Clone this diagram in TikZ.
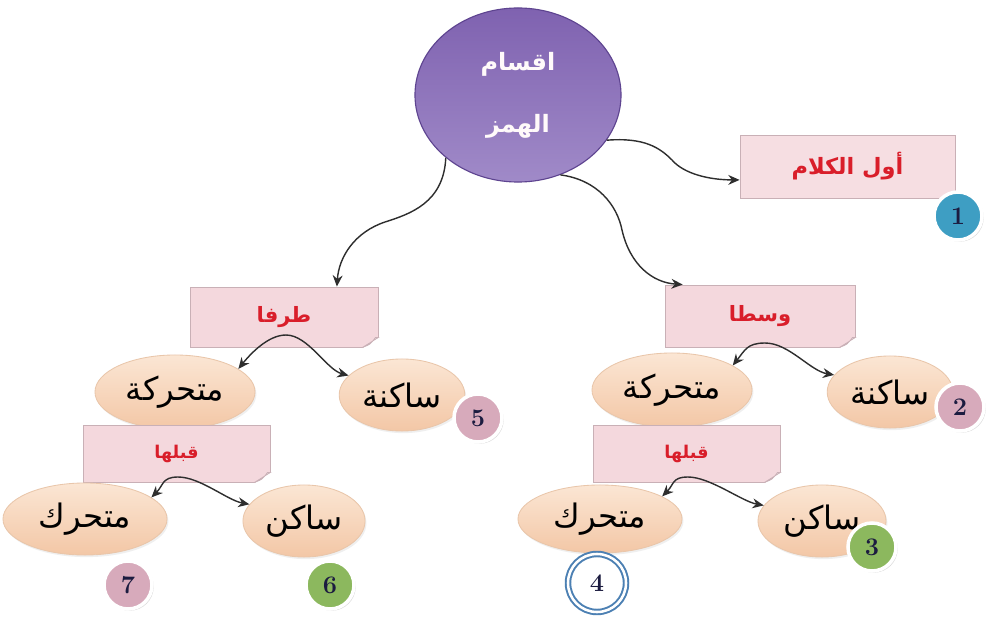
\documentclass[tikz,border=0pt]{standalone}
\usepackage{fontspec}
\usetikzlibrary{shapes.geometric,arrows.meta,calc,shadows}
\newfontfamily\arabicfont[Script=Arabic]{DejaVu Sans}
\TeXXeTstate=1
\newcommand\artext[1]{{\arabicfont\beginR #1\endR}}
\definecolor{purpTop}{HTML}{7F62B0}
\definecolor{purpBot}{HTML}{A08AC8}
\definecolor{purpEdge}{HTML}{5E4490}
\definecolor{boxFill}{HTML}{F4D8DD}
\definecolor{boxEdge}{HTML}{C9B0B6}
\definecolor{peachTop}{HTML}{FBE6D4}
\definecolor{peachBot}{HTML}{F3C7A6}
\definecolor{peachEdge}{HTML}{E9C6AA}
\definecolor{redText}{HTML}{D91E2A}
\definecolor{tealBadge}{HTML}{3E9EC3}
\definecolor{mauveBadge}{HTML}{D7AABB}
\definecolor{greenBadge}{HTML}{8CB85E}
\definecolor{blueRing}{HTML}{4C80B3}
\definecolor{numText}{HTML}{1C1C40}
\definecolor{arrowCol}{HTML}{2E2E2E}
\tikzset{
  mainball/.style={ellipse, minimum width=5.15cm, minimum height=4.35cm, draw=purpEdge, line width=0.8pt,
     top color=purpTop, bottom color=purpBot, text=white!92!pink, align=center,
     font=\fontsize{17}{44}\selectfont\bfseries},
  labelbox/.style={rectangle, draw=boxEdge, fill=boxFill, line width=0.6pt, text=redText,
     font=\fontsize{15}{18}\selectfont\bfseries, drop shadow={opacity=0.15, shadow xshift=1pt, shadow yshift=-1pt}},
  oval/.style={ellipse, draw=peachEdge, line width=0.6pt, top color=peachTop, bottom color=peachBot,
     text=black, font=\fontsize{23}{26}\selectfont,
     drop shadow={opacity=0.12, shadow xshift=1pt, shadow yshift=-1.5pt}},
  badge/.style={circle, minimum size=1.2cm, inner sep=0pt, draw=white, line width=2.5pt,
     text=numText, font=\fontsize{18}{18}\selectfont\bfseries,
     drop shadow={opacity=0.3, shadow xshift=1.2pt, shadow yshift=-1.2pt}},
  flow/.style={draw=arrowCol, line width=1pt, -{Stealth[length=8pt,width=7pt]}}
}
\newcommand\foldcorner[1]{%
  \fill[white] ($(#1.south east)+(-16,1)$) -- ($(#1.south east)+(1,1)$) -- ($(#1.south east)+(1,-11)$) -- cycle;
  \filldraw[fill=boxFill!80!gray!60, draw=boxEdge, line width=0.5pt] ($(#1.south east)+(-16,0)$) .. controls ($(#1.south east)+(-8,-3)$) .. ($(#1.south east)+(-3,-10)$) -- ($(#1.south east)+(0,-10)$) -- cycle;
  \draw[boxEdge, line width=0.6pt] ($(#1.south east)+(-16,0)$) -- ($(#1.south west)$);
  \draw[boxEdge, line width=0.6pt] ($(#1.south east)+(0,-10)$) -- ($(#1.north east)$);
}
\begin{document}
\begin{tikzpicture}[x=0.025cm,y=-0.025cm]
\useasboundingbox[fill=white] (0,0) rectangle (987,623);

% main circle
\node[mainball] (P) at (518,95) {\artext{اقسام}\\\artext{الهمز}};

% first-level boxes
\node[labelbox, minimum width=5.375cm, minimum height=1.575cm, fill=boxFill!85!white, font=\fontsize{16}{18}\selectfont\bfseries] (B1) at (847.5,166.5) {\artext{أول الكلام}};
\node[labelbox, minimum width=4.7cm, minimum height=1.5cm] (T) at (284,317) {\artext{طرفا}};
\node[labelbox, minimum width=4.75cm, minimum height=1.55cm] (V) at (760,316) {\artext{وسطا}};
\foldcorner{T}
\foldcorner{V}

% row 1 ovals
\node[oval, minimum width=4cm, minimum height=1.85cm] (EL1) at (175,392) {\artext{متحركة}};
\node[oval, minimum width=3.1cm, minimum height=1.8cm] (SL1) at (402,395) {\artext{ساكنة}};
\node[oval, minimum width=4cm, minimum height=1.85cm] (ER1) at (672,390) {\artext{متحركة}};
\node[oval, minimum width=3cm, minimum height=1.8cm] (SR1) at (890,392) {\artext{ساكنة}};

% row 2 boxes
\node[labelbox, minimum width=4.675cm, minimum height=1.425cm, font=\fontsize{12.5}{15}\selectfont\bfseries] (QL) at (176.5,453.5) {\artext{قبلها}};
\node[labelbox, minimum width=4.675cm, minimum height=1.425cm, font=\fontsize{12.5}{15}\selectfont\bfseries] (QR) at (686.5,453.5) {\artext{قبلها}};
\foldcorner{QL}
\foldcorner{QR}

% row 2 ovals
\node[oval, minimum width=4.1cm, minimum height=1.8cm] (EL2) at (85,519) {\artext{متحرك}};
\node[oval, minimum width=2.95cm, minimum height=1.8cm] (SL2) at (304,521) {\artext{ساكن}};
\node[oval, minimum width=4.1cm, minimum height=1.7cm] (ER2) at (600,519) {\artext{متحرك}};
\node[oval, minimum width=3.2cm, minimum height=1.8cm] (SR2) at (822,521) {\artext{ساكن}};

% badges
\node[badge, fill=tealBadge] (N1) at (958,216) {1};
\node[badge, fill=mauveBadge] (N2) at (960,407) {2};
\node[badge, fill=greenBadge] (N3) at (872,547) {3};
\node[badge, fill=white, draw=blueRing, line width=1.4pt, double=white, double distance=1.8pt, minimum size=1.45cm] (N4) at (597,583) {4};
\node[badge, fill=mauveBadge] (N5) at (478,418) {5};
\node[badge, fill=greenBadge] (N6) at (330,585) {6};
\node[badge, fill=mauveBadge] (N7) at (128,585) {7};

% connectors from main circle
\draw[flow] (P.-27) .. controls +(38,-3) and +(-12,-12) .. (672,160) .. controls +(12,14) and +(-30,0) .. ($(B1.south west)!0.29!(B1.north west)$);
\draw[flow] (P.-139) .. controls +(-2,45) and +(25,-8) .. (385,222) .. controls +(-30,10) and +(2,-30) .. ($(T.north west)!0.78!(T.north east)$);
\draw[flow] (P.-62) .. controls +(37,5) and +(-5,-25) .. (622,230) .. controls +(8,35) and +(-30,-2) .. ($(V.north west)!0.095!(V.north east)$);

% connectors from boxes to ovals
\coordinate (jT) at (286,335);
\coordinate (jV) at (765,343);
\coordinate (jQL) at (178,477);
\coordinate (jQR) at (688,477);
\draw[flow] (jT) .. controls +(-18,0) and +(12,-15) .. (EL1.20);
\draw[flow] (jT) .. controls +(22,0) and +(-22,-6) .. (SL1.160);
\draw[flow] (jV) .. controls +(-18,0) and +(12,-15) .. (ER1.22);
\draw[flow] (jV) .. controls +(24,0) and +(-24,-4) .. (SR1.163);
\draw[flow] (jQL) .. controls +(-16,0) and +(12,-12) .. (EL2.18);
\draw[flow] (jQL) .. controls +(22,0) and +(-22,-4) .. (SL2.163);
\draw[flow] (jQR) .. controls +(-16,0) and +(12,-12) .. (ER2.20);
\draw[flow] (jQR) .. controls +(22,0) and +(-22,-4) .. (SR2.165);
\end{tikzpicture}
\end{document}
